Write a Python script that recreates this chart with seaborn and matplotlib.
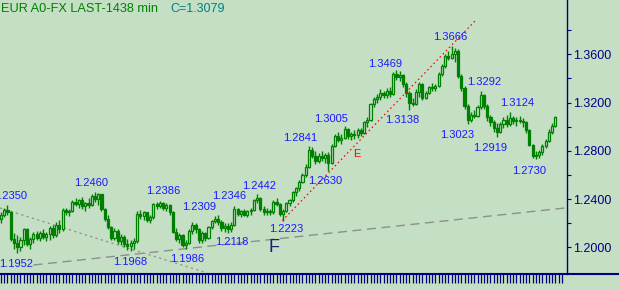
import matplotlib
matplotlib.use("Agg")
import matplotlib.pyplot as plt
import seaborn as sns
import numpy as np
import pandas as pd

# ---------------- data ----------------
opens = [1.2240,1.2270,1.2310,1.2290,1.2070,1.2040,1.2000,1.2060,1.2150,1.2030,
         1.2070,1.2110,1.2080,1.2120,1.2090,1.2110,1.2160,1.2100,1.2190,1.2150,
         1.2310,1.2290,1.2300,1.2380,1.2360,1.2390,1.2340,1.2370,1.2350,1.2430,
         1.2400,1.2440,1.2320,1.2240,1.2170,1.2080,1.2140,1.2050,1.2090,1.2030,
         1.2010,1.2040,1.2050,1.2280,1.2260,1.2290,1.2230,1.2250,1.2360,1.2340,
         1.2370,1.2330,1.2350,1.2290,1.2130,1.2070,1.2100,1.2020,1.2040,1.2140,
         1.2190,1.2150,1.2060,1.2120,1.2080,1.2170,1.2220,1.2240,1.2210,1.2160,
         1.2180,1.2150,1.2190,1.2320,1.2280,1.2300,1.2270,1.2300,1.2310,1.2390,
         1.2410,1.2320,1.2290,1.2300,1.2290,1.2380,1.2360,1.2280,1.2300,1.2370,
         1.2390,1.2460,1.2490,1.2540,1.2600,1.2670,1.2810,1.2760,1.2720,1.2760,
         1.2740,1.2770,1.2700,1.2840,1.2920,1.2890,1.2910,1.2980,1.2920,1.2940,
         1.2930,1.2970,1.2950,1.3040,1.3060,1.3190,1.3230,1.3250,1.3280,1.3260,
         1.3300,1.3270,1.3440,1.3410,1.3430,1.3350,1.3280,1.3200,1.3190,1.3290,
         1.3350,1.3240,1.3280,1.3330,1.3320,1.3340,1.3440,1.3500,1.3590,1.3570,
         1.3600,1.3630,1.3420,1.3320,1.3170,1.3060,1.3100,1.3090,1.3160,1.3260,
         1.3170,1.3080,1.3040,1.2990,1.2960,1.3020,1.3060,1.3020,1.3070,1.3050,
         1.3060,1.3050,1.3040,1.2970,1.2850,1.2760,1.2770,1.2790,1.2840,1.2880,
         1.2960,1.3010]
highs = [1.2290,1.2330,1.2350,1.2300,1.2120,1.2100,1.2090,1.2165,1.2160,1.2090,
         1.2130,1.2140,1.2140,1.2150,1.2130,1.2180,1.2190,1.2210,1.2225,1.2330,
         1.2330,1.2320,1.2390,1.2410,1.2400,1.2420,1.2380,1.2410,1.2440,1.2460,
         1.2450,1.2445,1.2330,1.2270,1.2180,1.2160,1.2150,1.2110,1.2100,1.2070,
         1.2060,1.2080,1.2300,1.2310,1.2300,1.2295,1.2270,1.2370,1.2380,1.2386,
         1.2380,1.2370,1.2360,1.2300,1.2160,1.2120,1.2110,1.2060,1.2150,1.2210,
         1.2200,1.2160,1.2140,1.2130,1.2180,1.2230,1.2260,1.2270,1.2230,1.2200,
         1.2200,1.2210,1.2346,1.2330,1.2310,1.2320,1.2310,1.2330,1.2400,1.2442,
         1.2420,1.2340,1.2330,1.2320,1.2390,1.2410,1.2370,1.2320,1.2380,1.2400,
         1.2470,1.2500,1.2560,1.2620,1.2690,1.2841,1.2830,1.2800,1.2780,1.2800,
         1.2780,1.2790,1.2860,1.2940,1.2960,1.2940,1.3005,1.2990,1.2960,1.2970,
         1.2990,1.2990,1.3050,1.3080,1.3200,1.3250,1.3270,1.3310,1.3300,1.3320,
         1.3330,1.3450,1.3469,1.3460,1.3440,1.3370,1.3300,1.3240,1.3310,1.3370,
         1.3360,1.3300,1.3340,1.3360,1.3350,1.3450,1.3520,1.3600,1.3630,1.3666,
         1.3650,1.3640,1.3440,1.3340,1.3190,1.3120,1.3140,1.3180,1.3292,1.3270,
         1.3190,1.3100,1.3060,1.3030,1.3040,1.3080,1.3100,1.3124,1.3090,1.3080,
         1.3090,1.3070,1.3050,1.2980,1.2860,1.2800,1.2810,1.2860,1.2900,1.2980,
         1.3030,1.3090]
lows = [1.2200,1.2250,1.2270,1.2050,1.1990,1.1952,1.1975,1.2020,1.2010,1.1990,
        1.2040,1.2060,1.2050,1.2070,1.2050,1.2060,1.2080,1.2090,1.2120,1.2140,
        1.2270,1.2260,1.2290,1.2340,1.2330,1.2320,1.2300,1.2330,1.2340,1.2380,
        1.2350,1.2300,1.2220,1.2150,1.2060,1.2060,1.2030,1.2020,1.2000,1.1980,
        1.1968,1.1990,1.2040,1.2240,1.2230,1.2210,1.2200,1.2240,1.2320,1.2330,
        1.2310,1.2300,1.2270,1.2120,1.2050,1.2040,1.2000,1.1986,1.2030,1.2110,
        1.2120,1.2040,1.2040,1.2050,1.2070,1.2150,1.2200,1.2190,1.2140,1.2130,
        1.2120,1.2130,1.2180,1.2260,1.2250,1.2260,1.2250,1.2270,1.2300,1.2370,
        1.2300,1.2270,1.2270,1.2270,1.2280,1.2340,1.2260,1.2223,1.2290,1.2340,
        1.2380,1.2430,1.2470,1.2530,1.2580,1.2660,1.2740,1.2690,1.2700,1.2720,
        1.2700,1.2630,1.2690,1.2830,1.2870,1.2860,1.2900,1.2900,1.2890,1.2900,
        1.2910,1.2920,1.2940,1.3000,1.3050,1.3160,1.3200,1.3220,1.3240,1.3240,
        1.3250,1.3260,1.3390,1.3380,1.3330,1.3250,1.3138,1.3170,1.3180,1.3250,
        1.3220,1.3230,1.3270,1.3300,1.3300,1.3330,1.3420,1.3490,1.3550,1.3560,
        1.3540,1.3400,1.3300,1.3150,1.3023,1.3040,1.3070,1.3080,1.3150,1.3150,
        1.3050,1.3010,1.2960,1.2919,1.2950,1.2990,1.3000,1.3010,1.3020,1.3010,
        1.3030,1.3000,1.2950,1.2840,1.2740,1.2730,1.2740,1.2770,1.2820,1.2870,
        1.2940,1.3000]
closes = [1.2270,1.2310,1.2290,1.2070,1.2040,1.2000,1.2060,1.2150,1.2030,1.2070,
          1.2110,1.2080,1.2120,1.2090,1.2110,1.2160,1.2100,1.2190,1.2150,1.2310,
          1.2290,1.2300,1.2380,1.2360,1.2390,1.2340,1.2370,1.2350,1.2430,1.2400,
          1.2440,1.2320,1.2240,1.2170,1.2080,1.2140,1.2050,1.2090,1.2030,1.2010,
          1.2040,1.2050,1.2280,1.2260,1.2290,1.2230,1.2250,1.2360,1.2340,1.2370,
          1.2330,1.2350,1.2290,1.2130,1.2070,1.2100,1.2020,1.2040,1.2140,1.2190,
          1.2150,1.2060,1.2120,1.2080,1.2170,1.2220,1.2240,1.2210,1.2160,1.2180,
          1.2150,1.2190,1.2320,1.2280,1.2300,1.2270,1.2300,1.2310,1.2390,1.2410,
          1.2320,1.2290,1.2300,1.2290,1.2380,1.2360,1.2280,1.2300,1.2370,1.2390,
          1.2460,1.2490,1.2540,1.2600,1.2670,1.2810,1.2760,1.2720,1.2760,1.2740,
          1.2770,1.2700,1.2840,1.2920,1.2890,1.2910,1.2980,1.2920,1.2940,1.2930,
          1.2970,1.2950,1.3040,1.3060,1.3190,1.3230,1.3250,1.3280,1.3260,1.3300,
          1.3270,1.3440,1.3410,1.3430,1.3350,1.3280,1.3200,1.3190,1.3290,1.3350,
          1.3240,1.3280,1.3330,1.3320,1.3340,1.3440,1.3500,1.3590,1.3570,1.3600,
          1.3630,1.3420,1.3320,1.3170,1.3060,1.3100,1.3090,1.3160,1.3260,1.3170,
          1.3080,1.3040,1.2990,1.2960,1.3020,1.3060,1.3020,1.3070,1.3050,1.3060,
          1.3050,1.3040,1.2970,1.2850,1.2760,1.2770,1.2790,1.2840,1.2880,1.2960,
          1.3010,1.3079]

# zigzag pivot labels: text, anchor bar position, anchor price
pivot_text = ["1.2350", "1.1952", "1.2460", "1.1968", "1.2386", "1.1986", "1.2309",
              "1.2346", "1.2118", "1.2442", "1.2223", "1.2841", "1.2630", "1.3005",
              "1.3469", "1.3138", "1.3666", "1.3292", "1.3023", "1.2919", "1.3124",
              "1.2730"]
pivot_x = [2.9, 4.6, 27.7, 39.8, 50.0, 57.4, 61.1, 70.35, 71.3, 79.6, 87.9, 92.3,
           100.0, 101.8, 118.5, 123.9, 138.7, 149.0, 140.6, 150.8, 159.1, 162.9]
pivot_y = [1.2426, 1.1863, 1.2534, 1.1880, 1.2468, 1.1905, 1.2335, 1.2426, 1.2046,
           1.2509, 1.2151, 1.2904, 1.2551, 1.3064, 1.3519, 1.3056, 1.3743, 1.3370,
           1.2932, 1.2826, 1.3194, 1.2633]

# trend lines (bar position, price)
down_line_x = [-0.3, 63.6]
down_line_y = [1.2327, 1.1789]
up_line_x = [10.0, 173.9]
up_line_y = [1.1855, 1.2327]
red_line_x = [86.8, 146.5]
red_line_y = [1.2223, 1.3884]

ytick_values = [1.20, 1.22, 1.24, 1.26, 1.28, 1.30, 1.32, 1.34, 1.36, 1.38]
ytick_labels = ["1.2000", "", "1.2400", "", "1.2800", "", "1.3200", "", "1.3600", ""]

title_text = "EUR A0-FX LAST-1438 min"
close_text = "C=1.3079"

# ---------------- style ----------------
BG = "#c4dfc4"
GREEN = "#008000"
NAVY = "#000080"
BLUE = "#1a1aff"

sns.set_style("ticks", rc={"axes.facecolor": BG, "figure.facecolor": BG})
plt.rcParams["font.family"] = ["Liberation Sans", "DejaVu Sans"]
plt.rcParams["lines.scale_dashes"] = False

fig = plt.figure(figsize=(6.19, 2.90), dpi=100)
ax = fig.add_axes([0, 16 / 290, 567 / 619, 274 / 290])
ax.set_facecolor(BG)

df = pd.DataFrame({"o": opens, "h": highs, "l": lows, "c": closes})
df["i"] = np.arange(len(df))
up = df[df.c >= df.o]
dn = df[df.c < df.o]

# wicks
ax.vlines(df.i, df.l, df.h, color=GREEN, lw=1.0, zorder=3)
# bodies
ax.bar(up.i, up.c - up.o, bottom=up.o, width=0.66, facecolor=BG,
       edgecolor=GREEN, lw=0.9, zorder=4)
ax.bar(dn.i, dn.o - dn.c, bottom=dn.c, width=0.66, facecolor=GREEN,
       edgecolor=GREEN, lw=0.9, zorder=4)

# trend lines via seaborn
sns.lineplot(x=down_line_x, y=down_line_y, ax=ax, color="#8e8e8e", lw=0.9, zorder=2)
ax.lines[-1].set_dashes([1.6, 2.4])
sns.lineplot(x=up_line_x, y=up_line_y, ax=ax, color="#8e8e8e", lw=1.0, zorder=2)
ax.lines[-1].set_dashes([6.5, 4.0])
sns.lineplot(x=red_line_x, y=red_line_y, ax=ax, color="#ff0000", lw=0.9, zorder=5)
ax.lines[-1].set_dashes([1.1, 2.1])

# pivot labels
for t, x, y in zip(pivot_text, pivot_x, pivot_y):
    ax.text(x, y, t, color=BLUE, fontsize=8.0, ha="center", va="center", zorder=6)

ax.text(109.7, 1.2774, "E", color="#ff0000", fontsize=7.8, ha="center", va="center")
ax.text(84.2, 1.1996, "F", color="#1c1c70", fontsize=13, ha="center", va="center")

# axes
ax.set_xlim(-0.31, 174.6)
ax.set_ylim(1.17805, 1.40497)
ax.yaxis.tick_right()
ax.set_yticks(ytick_values)
ax.set_yticklabels(ytick_labels)
ax.set_xticks(np.arange(0, 174))
ax.tick_params(axis="x", direction="out", length=6.5, width=0.9, color=NAVY,
               labelbottom=False)
ax.tick_params(axis="y", direction="out", length=3, width=0.8, color=NAVY,
               labelcolor=NAVY, labelsize=9, pad=1.5, left=False, right=True)
for s in ("top", "left"):
    ax.spines[s].set_visible(False)
ax.spines["right"].set_color(NAVY)
ax.spines["right"].set_linewidth(1.0)
ax.spines["bottom"].set_color(NAVY)
ax.spines["bottom"].set_linewidth(1.5)
ax.set_xlabel("")
ax.set_ylabel("")

# bottom axis continues to right edge of figure
fig.add_artist(plt.Line2D([567 / 619, 1.0], [16 / 290, 16 / 290],
                          color=NAVY, lw=1.5, transform=fig.transFigure))

fig.text(1 / 619, 1 - 9 / 290, title_text, color=GREEN, fontsize=9.2,
         ha="left", va="center")
fig.text(170.5 / 619, 1 - 9 / 290, close_text, color="#008080", fontsize=9.0,
         ha="left", va="center")

fig.savefig("out.png", dpi=100, facecolor=BG)
